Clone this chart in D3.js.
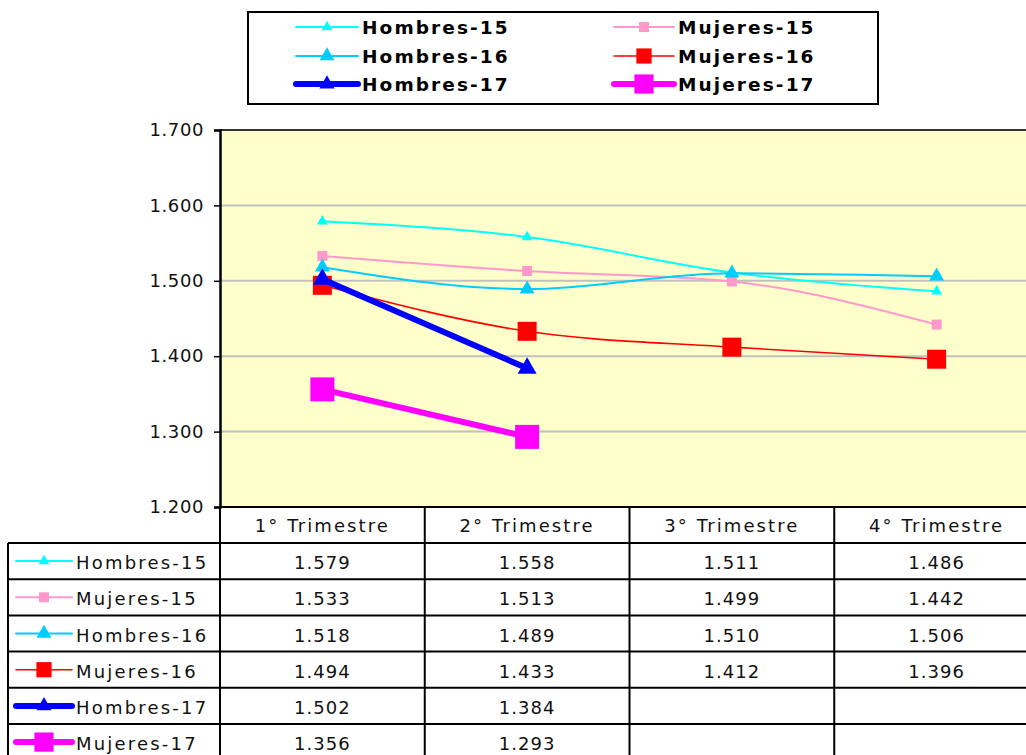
<!DOCTYPE html>
<html><head><meta charset="utf-8">
<script src="https://cdn.jsdelivr.net/npm/d3@7"></script>
<style>
html,body{margin:0;padding:0;background:#fff;overflow:hidden;}
svg{display:block;}
</style></head>
<body>
<script>
// ---- data ----
const categories = ["1° Trimestre","2° Trimestre","3° Trimestre","4° Trimestre"];
const seriesNames = ["Hombres-15","Mujeres-15","Hombres-16","Mujeres-16","Hombres-17","Mujeres-17"];
const hombres15 = [1.579,1.558,1.511,1.486];
const mujeres15 = [1.533,1.513,1.499,1.442];
const hombres16 = [1.518,1.489,1.510,1.506];
const mujeres16 = [1.494,1.433,1.412,1.396];
const hombres17 = [1.502,1.384,null,null];
const mujeres17 = [1.356,1.293,null,null];
const yTicks = [1.2,1.3,1.4,1.5,1.6,1.7];
const yTickLabels = ["1.200","1.300","1.400","1.500","1.600","1.700"];
const tableLabels = [
  ["1.579","1.558","1.511","1.486"],
  ["1.533","1.513","1.499","1.442"],
  ["1.518","1.489","1.510","1.506"],
  ["1.494","1.433","1.412","1.396"],
  ["1.502","1.384","",""],
  ["1.356","1.293","",""]
];

// ---- styles ----
const styles = [
  {color:"#00FFFF", width:2,   shape:"tri", size:11},
  {color:"#FF99CC", width:2,   shape:"sq",  size:10},
  {color:"#00CCFF", width:2,   shape:"tri", size:15},
  {color:"#FF0000", width:1.6, shape:"sq",  size:19},
  {color:"#0000FF", width:6,   shape:"tri", size:19},
  {color:"#FF00FF", width:6,   shape:"sq",  size:24}
];
const values = [hombres15,mujeres15,hombres16,mujeres16,hombres17,mujeres17];

const W = 1026, H = 755;
const svg = d3.select("body").append("svg").attr("width",W).attr("height",H);
const FONT = "'DejaVu Sans', Verdana, sans-serif";

const plotL = 220, plotR = 1039, plotT = 130, plotB = 507;
const x = d3.scaleBand().domain(categories).range([plotL, plotR]);
const y = d3.scaleLinear().domain([1.2,1.7]).range([plotB, plotT]);

// plot area
svg.append("rect").attr("x",plotL).attr("y",plotT).attr("width",plotR-plotL).attr("height",plotB-plotT)
  .attr("fill","#FFFFCC");

// gridlines
svg.append("g").selectAll("line").data(yTicks.filter(t=>t>1.2 && t<1.7)).join("line")
  .attr("x1",plotL).attr("x2",plotR).attr("y1",d=>y(d)).attr("y2",d=>y(d))
  .attr("stroke","#C0C0C0").attr("stroke-width",2);

// top border
svg.append("line").attr("x1",plotL).attr("x2",plotR).attr("y1",plotT).attr("y2",plotT)
  .attr("stroke","#333").attr("stroke-width",2);

// y axis
const yAxis = d3.axisLeft(y).tickValues(yTicks).tickFormat((d,i)=>yTickLabels[i]).tickSize(6).tickPadding(10);
const ga = svg.append("g").attr("transform",`translate(${plotL},0)`).call(yAxis);
ga.select(".domain").attr("stroke","#000").attr("stroke-width",2.5);
ga.selectAll(".tick line").attr("stroke","#000").attr("stroke-width",1.5);
ga.selectAll(".tick text").attr("font-family",FONT).attr("font-size",18).attr("letter-spacing","0.6px")
  .attr("fill","#111");

function symbolPath(st, scale){
  const s = st.size*(scale||1);
  if(st.shape==="tri") return d3.symbol(d3.symbolTriangle, s*s*0.433)();
  return d3.symbol(d3.symbolSquare, s*s)();
}

// series
const line = d3.line().defined(d=>d.v!=null).x(d=>x(d.c)+x.bandwidth()/2).y(d=>y(d.v)).curve(d3.curveMonotoneX);
values.forEach((vals,i)=>{
  const st = styles[i];
  const pts = vals.map((v,j)=>({c:categories[j],v}));
  const g = svg.append("g");
  g.append("path").datum(pts).attr("d",line).attr("fill","none").attr("stroke",st.color)
    .attr("stroke-width",st.width).attr("stroke-linejoin","round");
  g.selectAll("path.m").data(pts.filter(p=>p.v!=null)).join("path").attr("class","m")
    .attr("d",symbolPath(st))
    .attr("transform",p=>`translate(${x(p.c)+x.bandwidth()/2},${y(p.v)})`)
    .attr("fill",st.color);
});

// ---- data table ----
const rowH = 36.2, tableTop = 543, tableLeft = 8;
const tg = svg.append("g");
// header text
tg.selectAll("text.h").data(categories).join("text").attr("class","h")
  .attr("x",d=>x(d)+x.bandwidth()/2).attr("y",(plotB+tableTop)/2+7)
  .attr("text-anchor","middle").attr("font-family",FONT).attr("font-size",18)
  .attr("letter-spacing","2.1px").attr("fill","#111").text(d=>d);
// data cells
tableLabels.forEach((row,r)=>{
  const cy = tableTop + rowH*r + rowH/2;
  row.forEach((t,c)=>{
    if(!t) return;
    tg.append("text").attr("x",x(categories[c])+x.bandwidth()/2).attr("y",cy+8)
      .attr("text-anchor","middle").attr("font-family",FONT).attr("font-size",18)
      .attr("letter-spacing","1px").attr("fill","#111").text(t);
  });
  // legend key
  const st = styles[r];
  tg.append("line").attr("x1",16).attr("x2",72).attr("y1",cy).attr("y2",cy)
    .attr("stroke",st.color).attr("stroke-width",st.width).attr("stroke-linecap","round");
  tg.append("path").attr("d",symbolPath(st, st.size>18?0.8:1)).attr("transform",`translate(44,${cy})`).attr("fill",st.color);
  tg.append("text").attr("x",76).attr("y",cy+8).attr("font-family",FONT).attr("font-size",18)
    .attr("letter-spacing","2.2px").attr("fill","#111").text(seriesNames[r]);
});
// grid lines of table
const lineStyle = sel=>sel.attr("stroke","#000").attr("stroke-width",2);
tg.append("line").attr("x1",plotL).attr("x2",plotR).attr("y1",plotB).attr("y2",plotB).call(lineStyle);
for(let r=0;r<=6;r++){
  tg.append("line").attr("x1",tableLeft).attr("x2",plotR).attr("y1",tableTop+rowH*r).attr("y2",tableTop+rowH*r).call(lineStyle);
}
tg.append("line").attr("x1",tableLeft).attr("x2",tableLeft).attr("y1",tableTop).attr("y2",tableTop+rowH*6).call(lineStyle);
categories.forEach(c=>{
  tg.append("line").attr("x1",x(c)).attr("x2",x(c)).attr("y1",plotB).attr("y2",tableTop+rowH*6).call(lineStyle);
});
tg.append("line").attr("x1",plotR).attr("x2",plotR).attr("y1",plotB).attr("y2",tableTop+rowH*6).call(lineStyle);

// ---- legend ----
const lg = svg.append("g");
lg.append("rect").attr("x",248).attr("y",12).attr("width",630).attr("height",92)
  .attr("fill","#fff").attr("stroke","#000").attr("stroke-width",2);
const legRows = [27,56,84];
const legCols = [{x1:296,x2:358,tx:362},{x1:614,x2:674,tx:678}];
seriesNames.forEach((n,i)=>{
  const col = legCols[i%2], ry = legRows[Math.floor(i/2)], st = styles[i];
  lg.append("line").attr("x1",col.x1).attr("x2",col.x2).attr("y1",ry).attr("y2",ry)
    .attr("stroke",st.color).attr("stroke-width",st.width).attr("stroke-linecap","round");
  lg.append("path").attr("d",symbolPath(st, st.size>18?0.8:1)).attr("transform",`translate(${(col.x1+col.x2)/2},${ry})`).attr("fill",st.color);
  lg.append("text").attr("x",col.tx).attr("y",ry+7).attr("font-family",FONT).attr("font-size",18.5)
    .attr("font-weight","bold").attr("letter-spacing","2.1px").text(n);
});
</script>
</body></html>
